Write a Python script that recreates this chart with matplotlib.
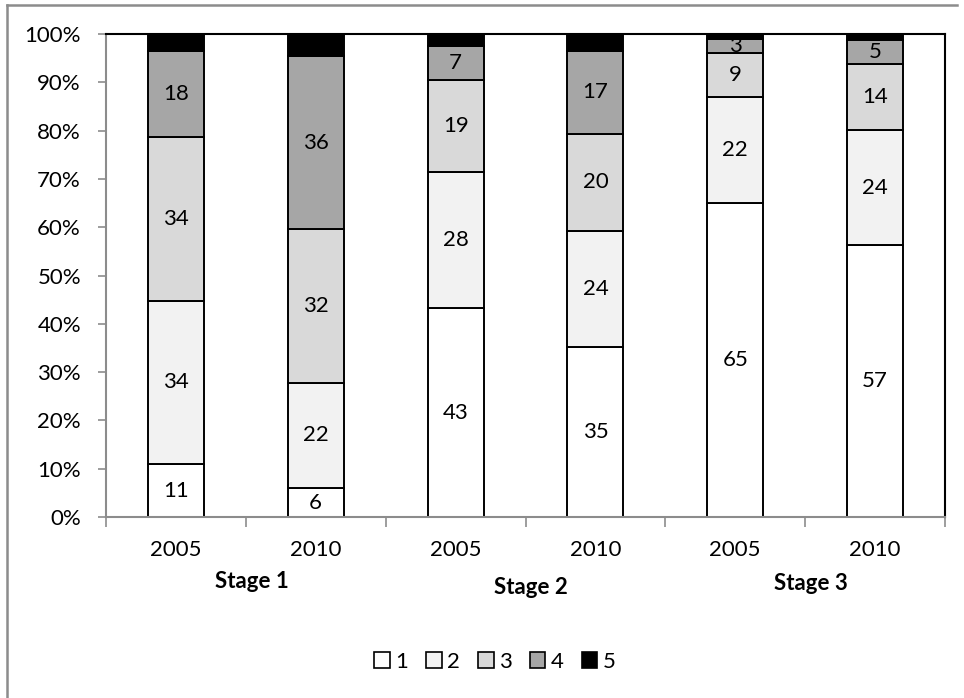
import matplotlib.pyplot as plt
import numpy as np
from matplotlib.lines import Line2D
from matplotlib.patches import Patch
from matplotlib.transforms import blended_transform_factory

plt.rcParams['font.family'] = ['Lato', 'DejaVu Sans']

# ----------------------------
# Data (share of each score, per stage and year)
# ----------------------------
years = ["2005", "2010", "2005", "2010", "2005", "2010"]
stages = ["Stage 1", "Stage 2", "Stage 3"]
series_names = ["1", "2", "3", "4", "5"]

score1 = [11, 6, 43, 35, 65, 57]
score2 = [34, 22, 28, 24, 22, 24]
score3 = [34, 32, 19, 20, 9, 14]
score4 = [18, 36, 7, 17, 3, 5]
score5 = [3.5, 4.6, 2.5, 3.5, 1.0, 1.2]

colors = ["#ffffff", "#f2f2f2", "#d9d9d9", "#a6a6a6", "#000000"]
show_labels = [True, True, True, True, False]

raw = np.array([score1, score2, score3, score4, score5], dtype=float)
shares = raw / raw.sum(axis=0) * 100

FS = 16

fig = plt.figure(figsize=(9.64, 6.98), dpi=100)
ax = fig.add_axes([106 / 964, 1 - 517 / 698, (945 - 106) / 964, (517 - 34) / 698])

x = np.arange(len(years))
bottom = np.zeros(len(years))
for i, name in enumerate(series_names):
    ax.bar(x, shares[i], 0.4, bottom=bottom, color=colors[i],
           edgecolor="black", linewidth=1.4, zorder=2 + 2 * i, label=name)
    if show_labels[i]:
        for xi, val, b, shown in zip(x, shares[i], bottom, raw[i]):
            ax.text(xi, b + val / 2, f"{shown:g}", ha="center", va="center",
                    fontsize=FS, color="black", zorder=3 + 2 * i)
    bottom += shares[i]

# ----------------------------
# Axes styling
# ----------------------------
ax.set_xlim(-0.5, len(years) - 0.5)
ax.set_ylim(0, 100)
ax.set_yticks(np.arange(0, 101, 10))
ax.set_yticklabels([f"{v}%" for v in range(0, 101, 10)], fontsize=FS)
ax.set_xticks(np.arange(-0.5, len(years), 1))
ax.set_xticklabels([])
ax.tick_params(axis="y", length=6, width=1.2, color="#8c8c8c", pad=12)
ax.tick_params(axis="x", length=7, width=1.2, color="#8c8c8c")

for side in ["left", "bottom"]:
    ax.spines[side].set_color("#8c8c8c")
    ax.spines[side].set_linewidth(1.5)
for side in ["top", "right"]:
    ax.spines[side].set_color("black")
    ax.spines[side].set_linewidth(1.5)

trans = blended_transform_factory(ax.transData, fig.transFigure)
for xi, yr in zip(x, years):
    ax.text(xi, 1 - 550 / 698, yr, transform=trans, ha="center", va="center",
            fontsize=FS)

stage_y = [582, 588, 583]
for k, (st, sy) in enumerate(zip(stages, stage_y)):
    ax.text(2 * k + 0.5 + 0.04, 1 - sy / 698, st, transform=trans,
            ha="center", va="center", fontsize=FS, fontweight="bold")

# ----------------------------
# Legend
# ----------------------------
handles = [Patch(facecolor=c, edgecolor="black", linewidth=1.2) for c in colors]
fig.legend(handles, series_names, loc="center", bbox_to_anchor=(495 / 964, 1 - 662 / 698),
           ncol=5, frameon=False, fontsize=FS, handlelength=0.7, handleheight=0.7,
           handletextpad=0.25, columnspacing=0.8)

# outer chart border
fig.add_artist(Line2D([7 / 964, 7 / 964], [0, 1 - 5 / 698], transform=fig.transFigure,
                      color="#8c8c8c", linewidth=1.8))
fig.add_artist(Line2D([7 / 964, 957 / 964], [1 - 5 / 698, 1 - 5 / 698],
                      transform=fig.transFigure, color="#8c8c8c", linewidth=1.8))

fig.savefig("out.png", dpi=100)
